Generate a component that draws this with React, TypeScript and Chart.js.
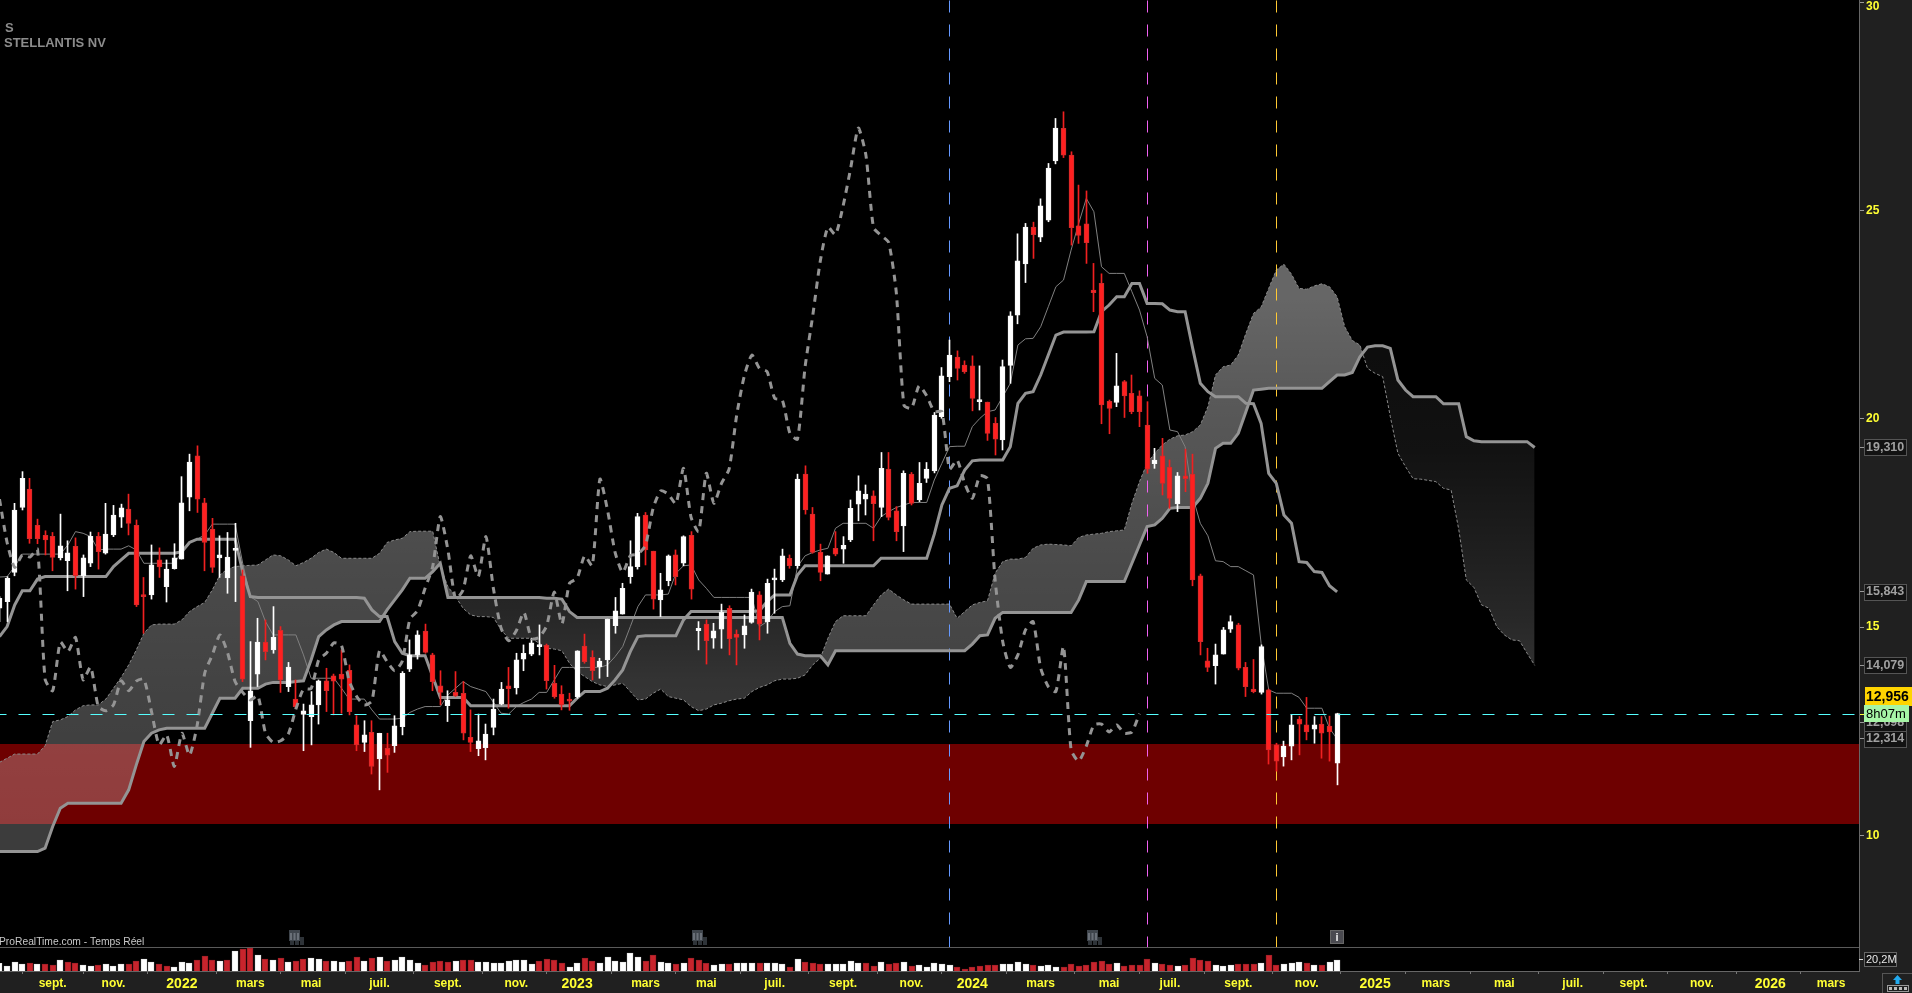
import React, { useEffect, useRef } from "react";
import { Chart, registerables } from "chart.js";

Chart.register(...registerables);

const opens = [15.45,15.61,16.31,17.87,18.31,17.44,17.2,17.18,16.66,16.59,16.94,16.23,16.53,17.18,16.77,17.21,17.64,17.83,17.44,15.75,15.77,16.61,15.97,16.4,16.63,18.12,19.11,17.98,17.35,16.66,16.18,16.84,16.23,12.75,13.87,14.64,14.45,14.92,13.57,13.27,12.9,12.85,13.13,13.71,13.83,13.87,13.96,12.65,12.23,12.47,11.83,12.09,12.15,12.61,13.99,14.33,14.9,14.33,13.59,13.11,13.43,13.41,12.35,12.08,12.1,12.59,13.15,13.59,13.54,14.23,14.35,14.53,14.56,13.65,13.39,13.27,13.33,14.54,14.27,14.05,14.21,15.03,15.31,16.21,16.45,17.69,16.82,15.65,16.11,16.73,16.53,17.2,14.91,15.07,14.73,14.95,15.45,14.83,14.81,15.11,15.77,15.13,16.13,16.13,16.65,16.47,18.67,17.71,16.79,16.27,16.89,16.87,17.09,17.95,18.07,18.15,17.87,18.79,17.79,17.43,18.67,18.05,18.57,18.75,20.05,21.01,21.48,21.29,21.27,20.41,20.4,19.89,19.49,21.28,22.49,23.72,24.6,24.36,24.77,26.19,26.97,26.33,24.63,24.68,23.09,23.25,20.42,20.39,20.89,20.61,20.55,19.85,18.92,19.11,18.84,17.96,18.63,18.67,16.23,14.19,14.07,14.35,14.95,15.05,14.03,13.51,13.43,13.49,12.17,11.88,12.14,12.79,12.65,12.55,12.67,12.62,11.73];
const highs = [15.73,16.21,17.97,18.73,18.57,17.59,17.31,17.27,17.71,17.07,17.14,16.73,17.28,17.27,17.97,17.92,17.95,18.19,17.57,16.19,16.97,16.9,16.61,17.0,18.61,19.15,19.35,18.09,17.61,17.19,17.27,17.49,16.37,14.65,15.21,15.17,15.49,15.01,14.15,13.73,13.15,13.45,13.73,14.01,13.87,14.45,14.09,12.87,12.75,12.75,12.45,12.45,12.87,13.93,14.69,14.91,15.07,14.37,13.95,13.47,13.93,13.69,13.01,12.91,12.67,13.27,13.67,14.03,14.37,14.57,14.73,15.05,14.59,14.08,13.59,13.41,14.43,14.83,14.43,14.25,15.19,15.71,16.05,17.07,17.73,17.75,16.82,16.29,16.73,16.85,17.19,17.29,15.13,15.17,15.09,15.55,15.51,14.93,15.29,15.91,15.85,16.15,16.39,16.87,16.73,18.67,18.87,17.87,16.99,16.71,17.29,17.17,18.05,18.63,18.41,18.27,19.19,19.19,17.89,18.75,18.71,18.95,18.95,20.15,21.23,21.89,21.63,21.39,21.51,21.27,20.4,20.03,21.41,22.57,24.44,24.69,24.72,25.28,26.13,27.21,27.37,26.41,25.61,25.47,23.73,23.48,20.45,21.57,20.92,21.05,20.67,20.41,19.29,19.53,19.01,18.71,19.27,19.15,16.27,14.49,14.59,14.99,15.27,15.09,14.15,14.22,14.57,13.51,12.21,12.26,12.89,12.85,13.31,12.85,12.85,12.86,12.93];
const lows = [15.13,15.13,16.23,17.81,17.01,17.0,16.73,16.35,16.61,15.87,15.91,15.73,16.45,16.39,16.75,17.17,17.39,17.21,15.49,14.85,15.67,16.19,15.6,16.39,16.63,17.79,17.75,16.35,16.31,16.19,15.81,15.61,13.69,12.11,13.57,14.21,14.37,13.43,13.45,13.05,12.03,12.17,12.67,12.97,12.89,12.93,12.89,12.03,12.01,11.47,11.09,11.51,11.99,12.41,13.93,14.23,14.37,13.47,13.13,12.73,13.33,12.29,12.01,11.91,11.81,12.41,13.13,13.05,13.39,13.95,14.31,14.33,13.51,13.29,13.01,13.0,13.29,14.13,13.73,13.77,13.81,14.85,15.31,16.05,16.39,16.49,15.43,15.25,15.99,16.01,16.47,15.67,14.45,14.11,14.49,14.49,14.33,14.09,14.49,15.09,14.69,14.85,15.33,16.09,16.41,16.41,17.71,16.77,16.11,16.27,16.71,16.53,17.05,17.55,17.69,17.07,17.65,17.57,17.07,16.81,17.93,18.01,18.47,18.7,20.01,20.89,20.93,21.09,20.19,20.21,19.48,19.13,19.25,20.85,22.28,23.27,23.85,24.25,24.73,26.12,26.27,24.17,24.21,23.73,22.57,19.88,19.64,20.29,20.03,20.12,19.81,18.69,18.81,18.17,17.85,17.77,18.25,15.99,14.33,13.93,13.63,14.35,14.87,13.97,13.33,13.42,13.39,11.71,11.54,11.66,11.81,11.93,12.29,12.21,11.85,11.78,11.21];
const closes = [15.69,16.17,17.81,18.57,17.12,17.12,17.09,16.67,16.95,16.78,16.23,16.66,17.18,16.81,17.23,17.69,17.86,17.49,15.53,15.73,16.49,16.44,16.39,16.66,17.98,18.96,18.07,17.03,16.43,16.73,16.68,16.87,13.75,13.47,14.64,14.41,14.75,13.73,14.04,13.09,12.99,13.13,13.71,13.47,13.7,13.75,12.97,12.17,12.41,11.65,12.45,11.92,12.63,13.89,14.33,14.81,14.39,13.69,13.43,13.25,13.35,12.45,12.23,12.27,12.43,13.03,13.51,13.52,14.21,14.37,14.62,14.56,13.71,13.33,13.13,13.22,14.43,14.17,13.95,14.18,15.19,15.39,15.93,16.45,17.65,16.85,15.67,15.89,16.71,16.21,17.17,15.91,14.97,14.67,14.91,15.35,14.72,14.75,15.03,15.84,15.07,16.05,16.17,16.71,16.47,18.55,17.81,16.79,16.31,16.71,16.75,16.96,17.85,18.27,18.19,17.96,18.81,17.63,17.29,18.69,17.97,18.45,18.79,20.09,21.03,21.53,21.21,21.13,20.49,20.45,19.65,19.51,21.25,22.47,23.79,24.6,24.42,25.11,26.02,26.98,26.33,24.59,24.4,24.23,23.03,20.33,20.25,20.79,20.55,20.17,20.17,18.79,19.01,18.45,18.09,18.63,18.56,16.13,14.65,14.03,14.33,14.93,15.13,14.01,13.57,13.45,14.53,12.05,11.78,12.14,12.65,12.67,12.48,12.65,12.45,12.48,12.92];
const tenkan = [16.2,16.21,16.45,16.75,16.75,16.75,16.75,16.75,16.75,16.97,17.29,17.25,17.17,16.85,16.87,16.87,16.87,16.95,16.85,16.53,16.53,16.53,16.53,16.53,16.81,17.05,17.11,17.21,17.47,17.47,17.47,17.47,16.53,15.73,15.61,15.13,14.81,14.81,14.81,14.81,14.33,13.77,13.77,13.77,13.77,13.53,13.27,13.27,13.27,13.01,12.79,12.79,12.79,12.81,12.95,13.03,13.09,13.09,13.09,13.37,13.53,13.69,13.57,13.51,13.45,13.19,12.93,12.91,13.09,13.19,13.27,13.43,13.43,13.73,14.03,14.03,14.03,14.03,14.03,14.03,14.09,14.29,14.53,15.01,15.49,15.77,15.77,15.77,15.79,16.29,16.47,16.49,16.13,15.93,15.71,15.71,15.71,15.71,15.71,15.71,15.01,15.13,15.37,15.49,15.51,16.45,16.71,16.79,16.85,16.89,17.37,17.49,17.49,17.49,17.49,17.37,17.65,17.77,17.87,17.93,17.99,17.99,17.99,18.53,18.93,19.33,19.34,19.34,19.81,20.01,20.17,20.21,20.53,20.85,21.77,21.92,21.93,22.21,22.69,23.17,23.33,24.05,24.69,25.29,24.97,23.65,23.49,23.49,23.49,23.05,22.61,21.97,20.97,20.81,19.73,19.69,19.33,18.13,17.49,17.19,16.59,16.57,16.45,16.45,16.35,16.25,14.61,13.49,13.41,13.41,13.41,13.31,13.05,13.05,13.05,12.57,12.314];
const kijun = [14.77,15.01,15.53,15.87,15.87,16.15,16.21,16.21,16.21,16.21,16.21,16.21,16.21,16.21,16.21,16.45,16.61,16.77,16.77,16.77,16.77,16.77,16.77,16.77,16.81,17.03,17.11,17.11,17.11,17.11,17.11,17.11,16.33,15.73,15.71,15.71,15.71,15.71,15.71,15.71,15.71,15.71,15.71,15.71,15.71,15.71,15.71,15.71,15.69,15.41,15.25,15.25,14.65,14.37,14.31,14.31,14.31,13.81,13.31,13.31,13.31,13.31,13.11,13.11,13.11,13.11,13.11,13.11,13.11,13.11,13.11,13.11,13.11,13.11,13.11,13.11,13.29,13.45,13.45,13.45,13.53,13.73,13.97,14.41,14.77,14.79,14.79,14.79,14.79,14.79,15.17,15.37,15.37,15.37,15.37,15.37,15.37,15.37,15.37,15.37,15.39,15.61,15.77,15.77,15.77,16.25,16.47,16.47,16.47,16.47,16.47,16.47,16.47,16.47,16.47,16.47,16.65,16.65,16.65,16.65,16.65,16.65,16.65,17.23,17.93,18.33,18.39,18.77,18.99,19.01,19.01,19.01,19.01,19.33,20.37,20.61,20.65,21.05,21.53,22.01,22.08,22.08,22.08,22.08,22.09,22.57,22.73,22.93,22.93,23.25,23.25,22.77,22.77,22.76,22.61,22.57,22.57,21.69,20.85,20.65,20.53,20.53,20.53,20.53,20.37,20.36,19.89,18.69,18.45,17.69,17.49,16.57,16.55,16.33,16.31,15.99,15.843];
const senkouA = [11.75,11.85,11.95,11.95,11.95,11.95,12.15,12.73,12.77,12.85,13.01,13.11,13.13,13.13,13.27,13.53,13.79,14.09,14.45,14.85,15.05,15.07,15.07,15.07,15.17,15.37,15.49,15.59,15.89,16.25,16.39,16.45,16.47,16.48,16.49,16.61,16.73,16.71,16.61,16.47,16.55,16.65,16.79,16.87,16.79,16.65,16.65,16.65,16.65,16.65,16.77,17.03,17.09,17.13,17.29,17.3,17.3,17.3,16.45,15.97,15.73,15.45,15.29,15.25,15.25,15.23,14.93,14.73,14.73,14.73,14.73,14.61,14.49,14.47,14.43,14.13,13.93,13.81,13.69,13.61,13.57,13.61,13.65,13.45,13.25,13.27,13.41,13.51,13.33,13.29,13.25,13.09,12.99,13.03,13.13,13.17,13.23,13.27,13.29,13.45,13.55,13.61,13.71,13.75,13.75,13.77,13.85,14.09,14.25,14.73,15.13,15.27,15.27,15.27,15.27,15.53,15.77,15.91,15.77,15.65,15.55,15.55,15.55,15.55,15.55,15.55,15.21,15.37,15.53,15.59,15.63,16.29,16.57,16.63,16.63,16.67,16.89,16.97,16.99,16.98,16.97,16.95,17.15,17.21,17.23,17.25,17.29,17.31,17.33,17.97,18.49,18.93,19.17,19.37,19.51,19.59,19.61,19.69,19.85,20.29,21.05,21.25,21.29,21.53,22.05,22.53,22.68,23.13,23.57,23.71,23.47,23.13,23.11,23.19,23.24,23.17,22.93,22.21,21.88,21.77,21.21,21.09,21.01,20.05,19.17,18.85,18.56,18.55,18.52,18.49,18.33,18.29,17.35,16.13,15.95,15.53,15.45,15.01,14.81,14.69,14.67,14.37,14.079];
const senkouB = [9.61,9.61,9.61,9.61,9.61,9.61,9.69,10.21,10.65,10.77,10.77,10.77,10.77,10.77,10.77,10.77,10.77,11.09,11.69,12.25,12.45,12.53,12.57,12.57,12.57,12.57,12.57,12.57,12.93,13.29,13.29,13.29,13.53,13.53,13.53,13.63,13.67,13.67,13.67,13.69,13.71,14.21,14.77,14.93,15.05,15.13,15.13,15.13,15.13,15.13,15.13,15.41,15.65,15.89,16.17,16.17,16.17,16.33,16.53,15.71,15.71,15.71,15.71,15.71,15.71,15.71,15.71,15.71,15.71,15.71,15.71,15.71,15.69,15.69,15.67,15.37,15.23,15.23,15.23,15.23,15.23,15.23,15.23,15.23,15.23,15.23,15.23,15.23,15.23,15.23,15.23,15.23,15.23,15.23,15.23,15.23,15.23,15.23,15.23,15.23,15.23,15.23,15.23,15.23,14.61,14.35,14.31,14.31,14.31,14.09,14.43,14.43,14.43,14.43,14.43,14.43,14.43,14.43,14.43,14.43,14.43,14.43,14.43,14.43,14.43,14.43,14.43,14.43,14.59,14.79,14.81,15.21,15.35,15.35,15.35,15.35,15.35,15.35,15.35,15.35,15.35,15.35,15.65,16.09,16.09,16.09,16.09,16.09,16.09,16.53,16.97,17.41,17.45,17.61,17.85,17.87,17.87,17.87,18.09,18.45,19.29,19.41,19.41,19.65,20.17,20.69,20.71,20.73,20.73,20.73,20.73,20.73,20.73,20.73,20.73,20.89,21.05,21.05,21.11,21.49,21.72,21.75,21.75,21.69,20.93,20.69,20.53,20.53,20.53,20.53,20.36,20.36,20.36,19.57,19.47,19.45,19.45,19.45,19.45,19.45,19.45,19.45,19.31];
const chikou = [18.07,17.03,16.43,16.73,16.68,16.87,13.75,13.47,14.64,14.41,14.75,13.73,14.04,13.09,12.99,13.13,13.71,13.47,13.7,13.75,12.97,12.17,12.41,11.65,12.45,11.92,12.63,13.89,14.33,14.81,14.39,13.69,13.43,13.25,13.35,12.45,12.23,12.27,12.43,13.03,13.51,13.52,14.21,14.37,14.62,14.56,13.71,13.33,13.13,13.22,14.43,14.17,13.95,14.18,15.19,15.39,15.93,16.45,17.65,16.85,15.67,15.89,16.71,16.21,17.17,15.91,14.97,14.67,14.91,15.35,14.72,14.75,15.03,15.84,15.07,16.05,16.17,16.71,16.47,18.55,17.81,16.79,16.31,16.71,16.75,16.96,17.85,18.27,18.19,17.96,18.81,17.63,17.29,18.69,17.97,18.45,18.79,20.09,21.03,21.53,21.21,21.13,20.49,20.45,19.65,19.51,21.25,22.47,23.79,24.6,24.42,25.11,26.02,26.98,26.33,24.59,24.4,24.23,23.03,20.33,20.25,20.79,20.55,20.17,20.17,18.79,19.01,18.45,18.09,18.63,18.56,16.13,14.65,14.03,14.33,14.93,15.13,14.01,13.57,13.45,14.53,12.05,11.78,12.14,12.65,12.67,12.48,12.65,12.45,12.48,12.92];
const volumes = [13.2,8.6,15.5,12.1,13.8,12.1,12.1,10.3,19,15.5,13.8,10.3,8.6,10.3,12.1,8.6,12.1,12.1,17.2,20.7,15.5,12.1,8.6,6.9,15.5,13.8,19,25.9,19,17.2,19,34.5,37.9,39.7,27.6,20.7,19,22.4,15.5,17.2,20.7,22.4,20.7,17.2,17.2,15.5,17.2,24.1,17.2,22.4,24.1,17.2,19,24.1,19,13.8,10.3,15.5,17.2,15.5,17.2,19,19,15.5,15.5,13.8,13.8,17.2,19,19,12.1,17.2,20.7,19,13.8,6.9,13.8,22.4,17.2,13.8,24.1,17.2,15.5,31,24.1,17.2,27.6,15.5,13.8,12.1,13.8,22.4,19,13.2,10.3,12.1,12.1,13.8,13.8,13.8,13.8,13.8,13.8,12.1,6.9,20.7,15.5,13.8,12.1,12.1,12.1,12.1,17.2,13.8,13.8,8.6,15.5,12.1,13.8,15.5,8.6,10.3,6.9,13.8,12.1,10.3,6.9,3.4,6.9,8.6,10.3,10.3,12.1,12.1,15.5,12.1,10.3,8.6,10.3,6.9,6.9,12.1,8.6,10.3,15.5,17.2,12.1,13.8,8.6,10.3,10.3,20.7,13.8,12.1,10.3,8.6,10.3,22.4,19,17.2,10.3,8.6,10.3,12.1,12.1,12.1,13.8,27.6,10.3,12.1,13.8,15.5,13.8,10.3,10.3,15.5,19];
const volumeUp = [1,1,1,1,0,1,0,0,1,0,0,1,1,0,1,1,1,0,0,1,1,0,0,1,1,1,0,0,0,1,0,1,0,0,1,0,1,0,1,0,0,1,1,0,1,1,0,0,1,0,1,0,1,1,1,1,0,0,0,0,1,0,0,1,1,1,1,1,1,1,1,0,0,0,0,1,1,0,0,1,1,1,1,1,1,0,0,1,1,0,1,0,0,0,1,1,0,1,1,1,0,1,1,1,0,1,0,0,0,1,1,1,1,1,0,0,1,0,0,1,0,1,1,1,1,1,0,0,0,0,0,0,1,1,1,1,0,1,1,1,0,0,0,0,0,0,0,1,0,0,0,0,1,0,0,1,0,0,0,0,1,1,1,0,0,0,1,0,0,1,1,1,0,1,0,1,1];

const tickIndex = [7,15,24,33,41,50,59,68,76,85,93,102,111,120,128,137,146,154,163,172,181,189,198,207,215,224,233,241];
const tickLabels = ["sept.","nov.","2022","mars","mai","juil.","sept.","nov.","2023","mars","mai","juil.","sept.","nov.","2024","mars","mai","juil.","sept.","nov.","2025","mars","mai","juil.","sept.","nov.","2026","mars"];
const priceTicks = [30,25,20,15,10];
const levelTicks = [19.31,15.843,14.079,12.698,12.314];
const lastPrice = 12.956;
const lastLevel = 12.899;
const countdown = "8h07m";
const bandTop = 12.19;
const bandBottom = 10.27;
const verticalMarks = [
  { index: 125, color: "#6699ff" },
  { index: 151, color: "#f060f0" },
  { index: 168, color: "#ffc933" },
];
const volumeTick = 20.2;
const eventIndex = [39,92,144];
const infoIndex = 176;

const X_MIN = 0.066, X_MAX = 244.67;
const Y_MIN = 6.741, Y_MAX = 30.054;
const V_MAX = 1674;
const SEPARATOR_PRICE = 7.317;

const fr = (v: number) => v.toFixed(3).replace(".", ",");
const pts = (arr: number[]) => arr.map((y, x) => ({ x, y }));

function box(ctx: CanvasRenderingContext2D, x: number, y: number, w: number, h: number, fill: string, stroke: string) {
  ctx.fillStyle = fill;
  ctx.fillRect(x, y, w, h);
  ctx.strokeStyle = stroke;
  ctx.lineWidth = 1;
  ctx.strokeRect(x + 0.5, y + 0.5, w - 1, h - 1);
}

const decor = {
  id: "decor",
  afterDatasetsUpdate(chart: any) {
    chart.data.datasets.forEach((ds: any, i: number) => {
      if (!ds.snap) return;
      chart.getDatasetMeta(i).data.forEach((el: any) => {
        if (ds.snap === "line") {
          el.x = Math.floor(el.x) + 0.5;
          el.y = Math.floor(el.y) + 0.5;
        } else {
          el.x = ds.snap === "odd" ? Math.floor(el.x) + 0.5 : Math.round(el.x);
        }
      });
    });
  },
  beforeDraw(chart: any) {
    const { ctx, chartArea: a, scales } = chart;
    ctx.save();
    ctx.fillStyle = "#202020";
    ctx.fillRect(0, 0, chart.width, chart.height);
    ctx.fillStyle = "#000";
    ctx.fillRect(a.left, a.top, a.right - a.left, a.bottom - a.top);
    levelTicks.forEach((v) => {
      const y = Math.round(scales.y.getPixelForValue(v));
      box(ctx, 1864, y - 8, 43, 17, "#121212", "#555");
    });
    ctx.restore();
  },
  afterDraw(chart: any) {
    const { ctx, chartArea: a, scales } = chart;
    ctx.save();
    // separator of the volume panel
    ctx.fillStyle = "#5a5a5a";
    const sep = Math.round(scales.y.getPixelForValue(SEPARATOR_PRICE));
    ctx.fillRect(0, sep, a.right, 1);
    // top price label sits below the tick because the tick is at the canvas edge
    ctx.fillStyle = "#ffff33";
    ctx.font = 'bold 12px "Liberation Sans"';
    ctx.textAlign = "left";
    ctx.textBaseline = "alphabetic";
    ctx.fillText(String(priceTicks[0]), 1866, 10);
    // instrument names
    ctx.fillStyle = "#8c8c8c";
    ctx.font = 'bold 13px "Liberation Sans"';
    ctx.fillText("S", 5, 32);
    ctx.fillText("STELLANTIS NV", 4, 47);
    ctx.fillStyle = "#c8c8c8";
    ctx.font = '11px "Liberation Sans"';
    ctx.save();
    ctx.translate(-1, 945);
    ctx.scale(0.935, 1);
    ctx.fillText("ProRealTime.com - Temps Réel", 0, 0);
    ctx.restore();
    // event markers
    eventIndex.forEach((i) => {
      const x = Math.round(scales.x.getPixelForValue(i));
      ctx.fillStyle = "#3f454c";
      ctx.fillRect(x - 7, 930, 11, 11);
      ctx.fillStyle = "#6a7078";
      for (let k = 0; k < 3; k++) ctx.fillRect(x - 6 + k * 3.5, 933, 2, 7);
      ctx.fillStyle = "#2e3338";
      ctx.fillRect(x - 6, 941, 4, 4);
      ctx.fillRect(x - 1, 941, 4, 4);
      ctx.fillRect(x + 4, 937, 4, 8);
    });
    const ix = Math.round(scales.x.getPixelForValue(infoIndex));
    box(ctx, ix - 7, 930, 14, 14, "#4a4a50", "#666");
    ctx.fillStyle = "#eee";
    ctx.font = 'bold 11px "Liberation Sans"';
    ctx.textAlign = "center";
    ctx.fillText("i", ix, 941);
    // last price + countdown tags
    ctx.font = 'bold 14px "Liberation Sans"';
    ctx.fillStyle = "#ffd400";
    ctx.fillRect(1865, 687, 47, 19);
    ctx.fillStyle = "#000";
    ctx.textAlign = "left";
    ctx.fillText(fr(lastPrice), 1866, 701);
    ctx.fillStyle = "#a6f5a6";
    ctx.fillRect(1864, 705, 45, 17);
    ctx.fillStyle = "#000";
    ctx.font = '13px "Liberation Sans"';
    ctx.fillText(countdown, 1866, 718);
    // volume tag
    const vy = Math.round(scales.v.getPixelForValue(volumeTick));
    ctx.fillStyle = "#ddd";
    ctx.fillRect(1859, vy, 4, 1);
    box(ctx, 1864, vy - 7, 33, 15, "#151515", "#666");
    ctx.fillStyle = "#e8e8e8";
    ctx.font = '11px "Liberation Sans"';
    ctx.fillText("20,2M", 1866, vy + 4);
    // bottom-right button
    ctx.strokeStyle = "#555";
    ctx.strokeRect(1882.5, 973.5, 30, 20);
    ctx.fillStyle = "#22aaee";
    ctx.beginPath();
    ctx.moveTo(1897.5, 975);
    ctx.lineTo(1902, 980);
    ctx.lineTo(1899.5, 980);
    ctx.lineTo(1899.5, 984);
    ctx.lineTo(1895.5, 984);
    ctx.lineTo(1895.5, 980);
    ctx.lineTo(1893, 980);
    ctx.closePath();
    ctx.fill();
    ctx.strokeStyle = "#999";
    ctx.strokeRect(1887.5, 985.5, 21, 6);
    ctx.fillStyle = "#bbb";
    for (let k = 0; k < 4; k++) ctx.fillRect(1889 + k * 5, 987, 3, 3);
    ctx.restore();
  },
};

const noPadding = (s: any) => {
  s.paddingTop = 0;
  s.paddingBottom = 0;
  s.paddingLeft = 0;
  s.paddingRight = 0;
};

export default function App() {
  const ref = useRef<HTMLCanvasElement>(null);

  useEffect(() => {
    document.body.style.margin = "0";
    document.body.style.background = "#000";
    const canvas = ref.current!;
    const ctx = canvas.getContext("2d")!;

    const bright = ctx.createLinearGradient(0, 0, 0, 993);
    [[300,0.4],[400,0.35],[570,0.29],[700,0.26],[830,0.235]].forEach(([y, al]) =>
      bright.addColorStop(y / 993, `rgba(255,255,255,${al})`));
    const dark = ctx.createLinearGradient(0, 0, 0, 993);
    [[350,0.05],[450,0.07],[530,0.11],[620,0.155],[680,0.2],[720,0.21]].forEach(([y, al]) =>
      dark.addColorStop(y / 993, `rgba(255,255,255,${al})`));

    const line = (extra: any) => ({ type: "line", pointRadius: 0, yAxisID: "y", xAxisID: "x", fill: false, ...extra });

    const datasets: any[] = [
      line({ data: [{ x: -2, y: bandTop }, { x: 246, y: bandTop }], borderWidth: 0, backgroundColor: "#6e0000", fill: 1, order: 100 }),
      line({ data: [{ x: -2, y: bandBottom }, { x: 246, y: bandBottom }], borderWidth: 0, order: 100 }),
      line({ data: pts(senkouB), borderColor: "#949494", borderWidth: 3, order: 40 }),
      line({
        data: pts(senkouA),
        borderColor: "#8a8a8a",
        borderWidth: 1,
        borderDash: [3, 2],
        backgroundColor: bright,
        fill: { target: 2, above: bright, below: dark },
        order: 90,
      }),
      ...verticalMarks.map((m) =>
        line({
          data: [{ x: m.index, y: Y_MAX }, { x: m.index, y: SEPARATOR_PRICE }],
          borderColor: m.color,
          borderWidth: 1,
          borderDash: [12, 12],
          order: 80,
          snap: "line",
        })
      ),
      line({ data: pts(kijun), borderColor: "#949494", borderWidth: 3, order: 40 }),
      line({ data: pts(tenkan), borderColor: "#808080", borderWidth: 1, order: 40 }),
      {
        type: "bar",
        data: opens.map((_, i) => ({ x: i, y: [lows[i], highs[i]] })),
        backgroundColor: (c: any) => (closes[c.dataIndex] >= opens[c.dataIndex] ? "#ffffff" : "#f02020"),
        barThickness: 1,
        grouped: false,
        yAxisID: "y",
        order: 30,
        snap: "odd",
      },
      {
        type: "bar",
        data: opens.map((o, i) => ({ x: i, y: [o, closes[i]] })),
        backgroundColor: (c: any) => (closes[c.dataIndex] >= opens[c.dataIndex] ? "#ffffff" : "#ff2020"),
        borderColor: (c: any) => (closes[c.dataIndex] >= opens[c.dataIndex] ? "#f8f8f8" : "#d02c2c"),
        borderWidth: 1,
        borderSkipped: false,
        barThickness: 5,
        minBarLength: 2,
        grouped: false,
        yAxisID: "y",
        order: 20,
        snap: "odd",
      },
      {
        type: "bar",
        data: pts(volumes),
        backgroundColor: (c: any) => (volumeUp[c.dataIndex] ? "#ffffff" : "#c8242c"),
        borderColor: (c: any) => (volumeUp[c.dataIndex] ? "#e8e8e8" : "#a02028"),
        borderWidth: 1,
        borderSkipped: "bottom",
        barThickness: 6,
        grouped: false,
        yAxisID: "v",
        order: 20,
        snap: "even",
      },
      line({ data: pts(chikou), borderColor: "#949494", borderWidth: 3, borderDash: [7, 6], tension: 0.2, order: 5 }),
      line({
        data: [{ x: -0.72, y: lastLevel }, { x: 246, y: lastLevel }],
        borderColor: "#55ffff",
        borderWidth: 1,
        borderDash: [12, 12],
        order: 1,
        snap: "line",
      }),
    ];

    const allY = [...priceTicks, ...levelTicks, lastLevel];

    const chart = new Chart(canvas, {
      type: "bar",
      data: { datasets },
      plugins: [decor],
      options: {
        responsive: false,
        devicePixelRatio: 1,
        animation: false,
        events: [],
        layout: { padding: 0 },
        plugins: { legend: { display: false }, tooltip: { enabled: false } },
        scales: {
          x: {
            type: "linear",
            position: "bottom",
            min: X_MIN,
            max: X_MAX,
            offset: false,
            afterBuildTicks(s: any) { s.ticks = tickIndex.map((value) => ({ value })); },
            afterFit(s: any) { s.height = 22; noPadding(s); },
            grid: { drawOnChartArea: false, color: "#777", tickLength: 3 },
            border: { color: "#666", width: 1 },
            ticks: {
              autoSkip: false,
              maxRotation: 0,
              minRotation: 0,
              padding: 2,
              color: "#ffff33",
              font: (c: any) => ({
                family: '"Liberation Sans"',
                weight: "bold",
                size: /^\d{4}$/.test(tickLabels[c.index] || "") ? 14 : 12,
              }),
              callback: (_v: any, i: number) => tickLabels[i],
            },
          },
          y: {
            type: "linear",
            position: "right",
            min: Y_MIN,
            max: Y_MAX,
            afterBuildTicks(s: any) { s.ticks = allY.map((value) => ({ value })); },
            afterFit(s: any) { s.width = 53; noPadding(s); },
            grid: {
              drawOnChartArea: false,
              tickLength: 5,
              color: (c: any) => (c.tick && c.tick.value === lastLevel ? "#ffff33" : "#999"),
            },
            border: { color: "#666", width: 1 },
            ticks: {
              autoSkip: false,
              padding: 2,
              color: (c: any) => (priceTicks.includes(c.tick.value) ? "#ffff33" : "#a0a0a0"),
              font: (c: any) => ({
                family: '"Liberation Sans"',
                weight: "bold",
                size: c.tick && priceTicks.includes(c.tick.value) ? 12 : 12.5,
              }),
              callback: (v: any) =>
                v === priceTicks[0] ? "" : priceTicks.includes(v) ? String(v) : levelTicks.includes(v) ? fr(v) : "",
            },
          },
          v: { type: "linear", display: false, position: "right", min: 0, max: V_MAX },
        },
      } as any,
    } as any);

    return () => chart.destroy();
  }, []);

  return (
    <div style={{ width: 1912, height: 993, overflow: "hidden" }}>
      <canvas ref={ref} width={1912} height={993} style={{ display: "block" }} />
    </div>
  );
}
